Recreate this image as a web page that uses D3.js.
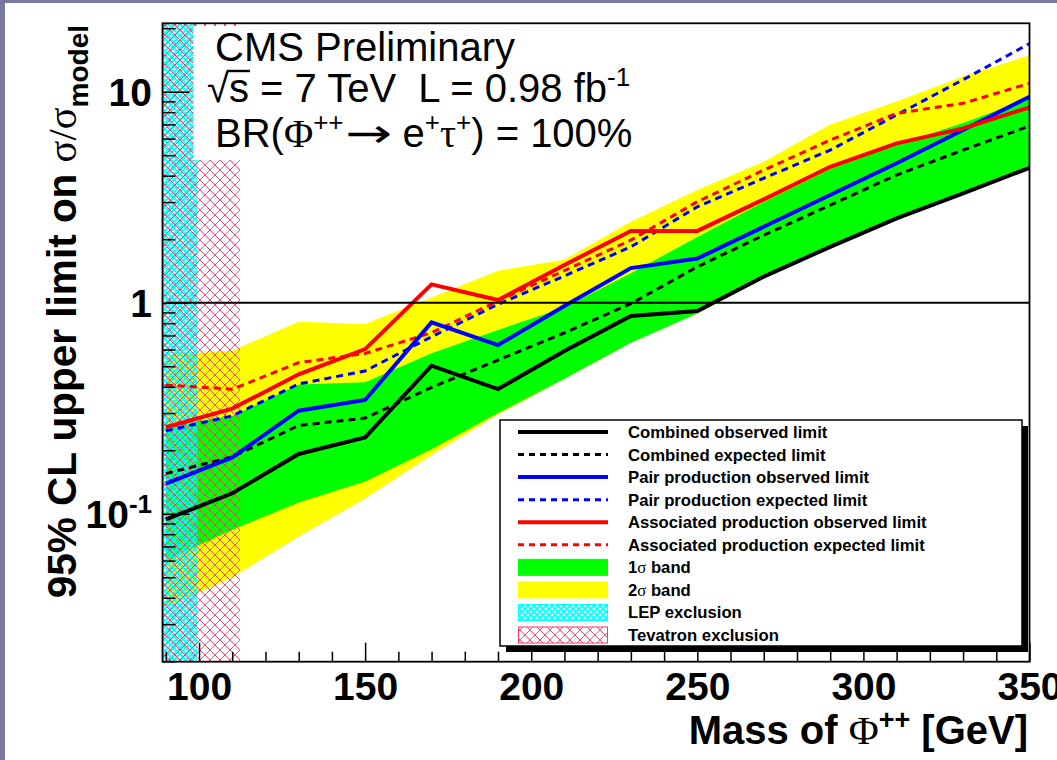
<!DOCTYPE html>
<html><head><meta charset="utf-8">
<script src="https://cdn.jsdelivr.net/npm/d3@7"></script>
<style>
html,body{margin:0;padding:0;background:#fff;}
svg{display:block;}
</style>
</head><body>
<svg id="c" width="1057" height="760"></svg>
<script>
// ---------------- data ----------------
const mass      = [90, 110, 130, 150, 170, 190, 210, 230, 250, 270, 290, 310, 330, 350];
const combObs   = [0.094, 0.125, 0.192, 0.230, 0.503, 0.390, 0.59, 0.865, 0.913, 1.33, 1.84, 2.51, 3.30, 4.36];
const combExp   = [0.155, 0.186, 0.262, 0.284, 0.397, 0.535, 0.72, 0.99, 1.48, 2.09, 2.90, 4.03, 5.29, 6.88];
const pairObs   = [0.139, 0.185, 0.308, 0.346, 0.807, 0.630, 0.965, 1.46, 1.62, 2.29, 3.24, 4.58, 6.58, 9.47];
const pairExp   = [0.247, 0.291, 0.412, 0.475, 0.690, 0.983, 1.34, 1.84, 2.85, 3.89, 5.29, 7.76, 11.4, 16.9];
const assocObs  = [0.257, 0.315, 0.458, 0.603, 1.222, 1.03, 1.51, 2.19, 2.19, 3.09, 4.41, 5.69, 6.70, 8.43];
const assocExp  = [0.407, 0.389, 0.520, 0.575, 0.721, 1.02, 1.42, 1.98, 3.01, 4.25, 5.90, 7.90, 8.81, 10.96];
const band1Lo   = [0.060, 0.084, 0.113, 0.142, 0.202, 0.300, 0.436, 0.646, 0.89, 1.31, 1.82, 2.48, 3.26, 4.31];
const band1Hi   = [0.262, 0.290, 0.410, 0.420, 0.576, 0.743, 0.95, 1.38, 2.05, 3.0, 4.3, 5.6, 7.1, 9.3];
const band2Lo   = [0.036, 0.050, 0.078, 0.118, 0.190, 0.295, 0.436, 0.646, 0.89, 1.31, 1.82, 2.48, 3.26, 4.31];
const band2Hi   = [0.565, 0.593, 0.813, 0.792, 1.06, 1.418, 1.6, 2.42, 3.42, 4.66, 7.0, 9.0, 11.8, 14.9];
const lepLimit  = 99.4;
const tevLimit  = 112.3;
const refLevel  = 1;
const xTicksMajor = [100, 150, 200, 250, 300, 350];
const xTicksMinor = [90,110,120,130,140,160,170,180,190,210,220,230,240,260,270,280,290,310,320,330,340];
const yTicksMajor = [0.1, 1, 10];
const yTickLabels = [["10","-1"], ["1",""], ["10",""]];
const legendLabels = ["Combined observed limit","Combined expected limit","Pair production observed limit",
  "Pair production expected limit","Associated production observed limit","Associated production expected limit",
  "1σ band","2σ band","LEP exclusion","Tevatron exclusion"];

// ---------------- setup ----------------
const W = 1057, H = 760;
const svg = d3.select("#c");
svg.append("rect").attr("width", W).attr("height", H).attr("fill", "#fff");
svg.append("rect").attr("x", 0).attr("y", 0).attr("width", 5).attr("height", H).attr("fill", "#78789e");
svg.append("rect").attr("x", 0).attr("y", 0).attr("width", W).attr("height", 3).attr("fill", "#78789e");

const L = 162.5, R = 1029.5, T = 23.3, B = 661.7;
const x = d3.scaleLinear().domain([89, 350]).range([L, R]);
const y = d3.scaleLog().domain([0.0199, 21.1]).range([B, T]);

const defs = svg.append("defs");
defs.append("clipPath").attr("id", "plotclip").append("rect")
  .attr("x", L).attr("y", T).attr("width", R - L).attr("height", B - T);
const tev = defs.append("pattern").attr("id", "tev").attr("patternUnits", "userSpaceOnUse")
  .attr("width", 10).attr("height", 10);
tev.append("path").attr("d", "M0,0L10,10M10,0L0,10M-1,9L1,11M9,-1L11,1M-1,1L1,-1M9,11L11,9")
  .attr("stroke", "#ff3366").attr("stroke-width", 0.9).attr("fill", "none");
const lep = defs.append("pattern").attr("id", "lep").attr("patternUnits", "userSpaceOnUse")
  .attr("width", 6).attr("height", 6);
lep.append("path").attr("d", "M0,0L6,6M6,0L0,6M-1,5L1,7M5,-1L7,1M-1,1L1,-1M5,7L7,5")
  .attr("stroke", "#00ffff").attr("stroke-width", 1.8).attr("fill", "none");

const plot = svg.append("g").attr("clip-path", "url(#plotclip)");
const idx = d3.range(mass.length);

const area = (lo, hi) => d3.area().x(i => x(mass[i])).y0(i => y(lo[i])).y1(i => y(hi[i]))(idx);
plot.append("path").attr("d", area(band2Lo, band2Hi)).attr("fill", "#ffff00");
plot.append("path").attr("d", area(band1Lo, band1Hi)).attr("fill", "#00ff00");

// exclusion hatches
plot.append("rect").attr("x", L).attr("y", T).attr("width", x(lepLimit) - L).attr("height", B - T).attr("fill", "url(#lep)");
plot.append("rect").attr("x", L).attr("y", T).attr("width", x(tevLimit) - L).attr("height", B - T).attr("fill", "url(#tev)");

// text box background
svg.append("rect").attr("x", 193.5).attr("y", 26).attr("width", 460).attr("height", 134).attr("fill", "#fff");

// lines
const lineGen = vals => d3.line().x(i => x(mass[i])).y(i => y(vals[i]))(idx);
const series = [
  {v: combExp, c: "#000", w: 3, d: "7,5"},
  {v: pairExp, c: "#0000ff", w: 3, d: "7,5"},
  {v: assocExp, c: "#ff0000", w: 3, d: "7,5"},
  {v: combObs, c: "#000", w: 4, d: null},
  {v: pairObs, c: "#0000ff", w: 4, d: null},
  {v: assocObs, c: "#ff0000", w: 4, d: null}
];
series.forEach(s => {
  plot.append("path").attr("d", lineGen(s.v)).attr("fill", "none").attr("stroke", s.c)
    .attr("stroke-width", s.w).attr("stroke-dasharray", s.d).attr("stroke-linejoin", "miter");
});
plot.append("line").attr("x1", x(mass[0])).attr("x2", x(mass[mass.length - 1]))
  .attr("y1", y(refLevel)).attr("y2", y(refLevel)).attr("stroke", "#000").attr("stroke-width", 2);

// frame
svg.append("rect").attr("x", L).attr("y", T).attr("width", R - L).attr("height", B - T)
  .attr("fill", "none").attr("stroke", "#000").attr("stroke-width", 1.8);

// axes
const gx = svg.append("g").attr("transform", `translate(0,${B})`)
  .call(d3.axisBottom(x).tickValues(xTicksMajor).tickSize(-19).tickPadding(11).tickFormat(d3.format("d")));
gx.select(".domain").remove();
gx.selectAll("line").attr("stroke", "#000").attr("stroke-width", 1.5);
gx.selectAll("text").attr("font-family", "Liberation Sans, Arial, sans-serif").attr("font-weight", "bold")
  .attr("font-size", 39).attr("fill", "#000");
const gxm = svg.append("g").attr("transform", `translate(0,${B})`)
  .call(d3.axisBottom(x).tickValues(xTicksMinor).tickSize(-10).tickFormat(""));
gxm.select(".domain").remove();
gxm.selectAll("line").attr("stroke", "#000").attr("stroke-width", 1.5);

const yMinor = [];
[-2, -1, 0, 1].forEach(e => { for (let k = 2; k <= 9; k++) { const v = k * Math.pow(10, e); if (v >= 0.0199 && v <= 21.1) yMinor.push(v); } });
const gy = svg.append("g").attr("transform", `translate(${L},0)`)
  .call(d3.axisLeft(y).tickValues(yTicksMajor).tickSize(-27).tickFormat(""));
gy.select(".domain").remove();
gy.selectAll("line").attr("stroke", "#000").attr("stroke-width", 1.5);
const gym = svg.append("g").attr("transform", `translate(${L},0)`)
  .call(d3.axisLeft(y).tickValues(yMinor).tickSize(-13).tickFormat(""));
gym.select(".domain").remove();
gym.selectAll("line").attr("stroke", "#000").attr("stroke-width", 1.5);

yTicksMajor.forEach((v, i) => {
  const t = svg.append("text").attr("x", 152).attr("y", y(v) + 14).attr("text-anchor", "end")
    .attr("font-family", "Liberation Sans, Arial, sans-serif").attr("font-weight", "bold")
    .attr("font-size", 39).attr("fill", "#000");
  t.append("tspan").text(yTickLabels[i][0]);
  if (yTickLabels[i][1]) t.append("tspan").attr("font-size", 26).attr("dy", -15).text(yTickLabels[i][1]);
});

// axis titles
const xt = svg.append("text").attr("x", 1028).attr("y", 744).attr("text-anchor", "end")
  .attr("font-family", "Liberation Sans, Arial, sans-serif").attr("font-weight", "bold")
  .attr("font-size", 40).attr("fill", "#000");
xt.append("tspan").text("Mass of ");
xt.append("tspan").attr("font-family", "Liberation Serif, Times New Roman, serif").attr("font-weight", "normal")
  .attr("font-size", 41).text("Φ");
xt.append("tspan").attr("font-size", 27).attr("dy", -15).text("++");
xt.append("tspan").attr("dy", 15).text(" [GeV]");

const yt = svg.append("text").attr("transform", "translate(76,25) rotate(-90)").attr("text-anchor", "end")
  .attr("font-family", "Liberation Sans, Arial, sans-serif").attr("font-weight", "bold")
  .attr("font-size", 40.5).attr("fill", "#000");
yt.append("tspan").text("95% CL upper limit on ");
yt.append("tspan").attr("font-family", "Liberation Serif, Times New Roman, serif").attr("font-weight", "normal").text("σ/σ");
yt.append("tspan").attr("font-size", 28).attr("dy", 12).text("model");

// header text
const hf = "Liberation Sans, Arial, sans-serif";
const sf = "Liberation Serif, Times New Roman, serif";
svg.append("text").attr("x", 215).attr("y", 61).attr("font-family", hf).attr("font-size", 40).attr("fill", "#000")
  .text("CMS Preliminary");
const h2 = svg.append("text").attr("x", 207).attr("y", 102).attr("font-family", hf).attr("font-size", 40).attr("fill", "#000");
h2.append("tspan").text("√s = 7 TeV\u00a0\u00a0L = 0.98 fb");
h2.append("tspan").attr("font-size", 26).attr("dy", -16).text("-1");
// line 3 in pieces
const h3a = svg.append("text").attr("x", 215).attr("y", 147).attr("font-family", hf).attr("font-size", 40).attr("fill", "#000");
h3a.append("tspan").text("BR(");
h3a.append("tspan").attr("font-family", sf).text("Φ");
h3a.append("tspan").attr("font-size", 26).attr("dy", -16).text("++");
let endA = 343;
try { const bb = h3a.node().getBBox(); endA = bb.x + bb.width; } catch (err) {}
svg.append("text").attr("transform", `translate(${endA + 2},147) scale(1.4,1)`)
  .attr("font-family", "DejaVu Sans, sans-serif").attr("font-size", 40).attr("fill", "#000").text("→");
const h3c = svg.append("text").attr("x", endA + 59).attr("y", 147).attr("font-family", hf).attr("font-size", 40).attr("fill", "#000");
h3c.append("tspan").text("e");
h3c.append("tspan").attr("font-size", 26).attr("dy", -16).text("+");
h3c.append("tspan").attr("dy", 16).attr("font-family", sf).text("τ");
h3c.append("tspan").attr("font-size", 26).attr("dy", -16).text("+");
h3c.append("tspan").attr("dy", 16).text(") = 100%");
// overline of sqrt
try {
  const n = h2.node();
  const e0 = n.getExtentOfChar(0), e1 = n.getExtentOfChar(1);
  svg.append("line").attr("x1", e0.x + e0.width - 2).attr("x2", e1.x + e1.width + 1)
    .attr("y1", 71).attr("y2", 71).attr("stroke", "#000").attr("stroke-width", 2.4);
} catch (err) {}

// legend
const legX = 500, legY = 420, legW = 522, legH = 226;
svg.append("rect").attr("x", legX + 6).attr("y", legY + 6).attr("width", legW).attr("height", legH).attr("fill", "#000");
svg.append("rect").attr("x", legX).attr("y", legY).attr("width", legW).attr("height", legH)
  .attr("fill", "#fff").attr("stroke", "#000").attr("stroke-width", 1.5);
const legStyles = [
  {t: "line", c: "#000", w: 4, d: null},
  {t: "line", c: "#000", w: 3, d: "6,5"},
  {t: "line", c: "#0000ff", w: 4, d: null},
  {t: "line", c: "#0000ff", w: 3, d: "6,5"},
  {t: "line", c: "#ff0000", w: 4, d: null},
  {t: "line", c: "#ff0000", w: 3, d: "6,5"},
  {t: "box", f: "#00ff00", s: "#00ff00"},
  {t: "box", f: "#ffff00", s: "#ffff00"},
  {t: "box", f: "url(#lep)", s: "#00ffff"},
  {t: "box", f: "url(#tev)", s: "#ff3366"}
];
legendLabels.forEach((lab, i) => {
  const cy = 432 + i * 22.56;
  const st = legStyles[i];
  if (st.t === "line") {
    svg.append("line").attr("x1", 518).attr("x2", 608).attr("y1", cy).attr("y2", cy)
      .attr("stroke", st.c).attr("stroke-width", st.w).attr("stroke-dasharray", st.d);
  } else {
    svg.append("rect").attr("x", 518.5).attr("y", cy - 8).attr("width", 89).attr("height", 16)
      .attr("fill", st.f).attr("stroke", st.s).attr("stroke-width", 1);
  }
  const t = svg.append("text").attr("x", 628).attr("y", cy + 6).attr("font-family", hf)
    .attr("font-weight", "bold").attr("font-size", 16.7).attr("fill", "#000");
  if (lab.includes("σ")) {
    const parts = lab.split("σ");
    t.append("tspan").text(parts[0]);
    t.append("tspan").attr("font-family", sf).attr("font-weight", "normal").text("σ");
    t.append("tspan").text(parts[1]);
  } else t.text(lab);
});
</script>
</body></html>
